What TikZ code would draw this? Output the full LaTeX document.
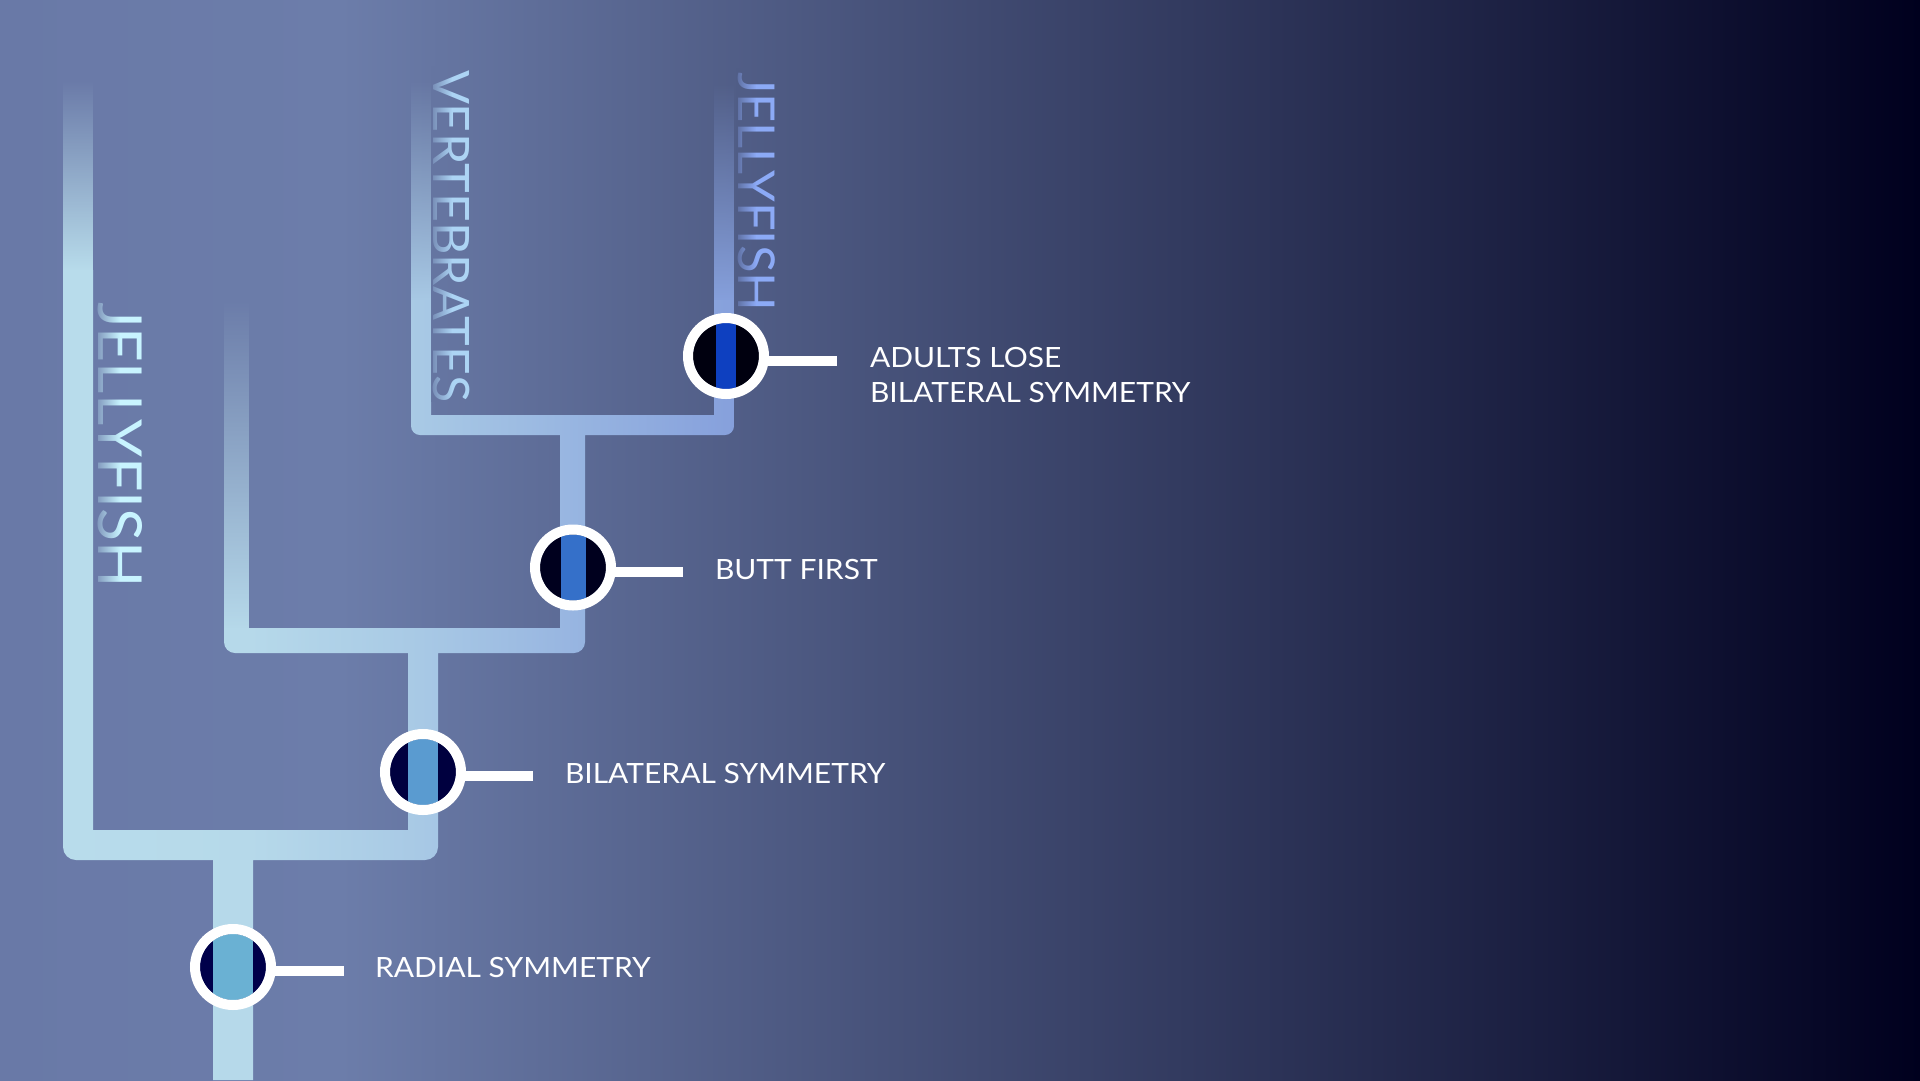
\documentclass[tikz,border=0pt]{standalone}
\usepackage{fontspec}
\setmainfont{Lato}
\newfontfamily\labfont[FakeStretch=1.075]{Lato}
\usetikzlibrary{fadings}

% background
\definecolor{bgA}{HTML}{6979A7}
\definecolor{bgB}{HTML}{6C7DAA}
\definecolor{bgD}{HTML}{00001E}
\definecolor{bgJ}{HTML}{6A7BA8}
\definecolor{bgV}{HTML}{6575A1}
\definecolor{bgR}{HTML}{505D86}
% tree
\definecolor{tA}{HTML}{B8DCEB}
\definecolor{tB}{HTML}{B6D9EA}
\definecolor{tC}{HTML}{A8C9E5}
\definecolor{tD}{HTML}{86A0DC}
% markers
\definecolor{darkA}{HTML}{00004A}
\definecolor{darkB}{HTML}{00003F}
\definecolor{darkC}{HTML}{00001E}
\definecolor{darkD}{HTML}{00000F}
\definecolor{stripeA}{HTML}{6AB1D3}
\definecolor{stripeB}{HTML}{5A9BD0}
\definecolor{stripeC}{HTML}{3570C9}
\definecolor{stripeD}{HTML}{0E40C0}
% vertical labels
\definecolor{jellyL}{HTML}{C8F4FF}
\definecolor{vertL}{HTML}{ACD4F4}
\definecolor{jellyR}{HTML}{8CAAF6}

% x positions mapped onto 25bp..75bp of each shading
\pgfdeclarehorizontalshading{bgshade}{100bp}{color(0bp)=(bgA); color(25bp)=(bgA); color(33.85bp)=(bgB); color(75bp)=(bgD); color(100bp)=(bgD)}
\pgfdeclarehorizontalshading{treeshade}{100bp}{color(0bp)=(tA); color(25bp)=(tA); color(38.9bp)=(tB); color(51.6bp)=(tC); color(75bp)=(tD); color(100bp)=(tD)}

\tikzfading[name=fadeup, top color=transparent!100, bottom color=transparent!0]
\tikzfading[name=fadeside, left color=transparent!22, right color=transparent!100]

\tikzset{
  marker/.style n args={3}{circle, fill=#1, minimum size=66bp, inner sep=0pt, outer sep=0pt,
    path picture={\fill[#2] ([xshift=-#3]path picture bounding box.north) rectangle ([xshift=#3]path picture bounding box.south);}},
  ring/.style={draw=white, line width=10bp},
  conn/.style={draw=white, line width=10bp},
  lab/.style={anchor=base west, inner sep=0pt, outer sep=0pt, text=white, font=\labfont\fontsize{28}{36}\selectfont},
  vlabel/.style={rotate=-90, anchor=base west, inner sep=0pt, outer sep=0pt},
}

\begin{document}
\begin{tikzpicture}[x=1bp, y=1bp]
\useasboundingbox (0,0) rectangle (1920,-1080);
\shade[shading=bgshade] (0,-1080) rectangle (1920,0);

% tree body in one horizontal gradient
\begin{scope}
  \clip (213,-1080) rectangle (253,-845)
        [rounded corners=13bp] (63,-860) rectangle (438,-830) [sharp corners]
        (63,-845) rectangle (93,-270)
        (408,-845) rectangle (438,-640)
        [rounded corners=11bp] (224,-653) rectangle (585,-628) [sharp corners]
        (224,-640) rectangle (249,-628)
        (560,-640) rectangle (585,-425)
        [rounded corners=9bp] (411,-435) rectangle (734,-415) [sharp corners]
        (411,-425) rectangle (431,-300)
        (714,-425) rectangle (734,-300);
  \shade[shading=treeshade] (63,-1080) rectangle (734,0);
\end{scope}

% branch tips fading out
\fill[tA, path fading=fadeup] (63,-270) rectangle (93,-80);
\fill[tB, path fading=fadeup] (224,-628) rectangle (249,-300);
\fill[tC, path fading=fadeup] (411,-300) rectangle (431,-80);
\fill[tD, path fading=fadeup] (714,-300) rectangle (734,-83);

% clade names along the branches
\node[vlabel, font=\fontsize{61}{61}\selectfont, text=jellyL] (jellyleft) at (98,-302) {JELLYFISH};
\node[vlabel, font=\fontsize{50.4}{51}\selectfont, text=vertL] (vert) at (433,-70) {VERTEBRATES};
\node[vlabel, font=\fontsize{51}{51}\selectfont, text=jellyR] (jellyright) at (738,-72) {JELLYFISH};
\fill[bgJ, path fading=fadeside] (96,-590) rectangle (120,-296);
\fill[bgV, path fading=fadeside] (431,-402) rectangle (452,-66);
\fill[bgR, path fading=fadeside] (736,-312) rectangle (756,-68);

% trait markers
\node[marker={darkA}{stripeA}{20bp}] (c1) at (233,-967) {};
\node[marker={darkB}{stripeB}{15bp}] (c2) at (423,-772) {};
\node[marker={darkC}{stripeC}{12.5bp}] (c3) at (573,-567.5) {};
\node[marker={darkD}{stripeD}{10bp}] (c4) at (726,-356) {};

\node[lab] (l1) at (375,-977.7) {RADIAL SYMMETRY};
\node[lab] (l2) at (565,-783) {BILATERAL SYMMETRY};
\node[lab] (l3) at (715,-579) {BUTT FIRST};
\node[lab] (l4) at (870,-367) {\begin{tabular}[t]{@{}l@{}}ADULTS LOSE\\BILATERAL SYMMETRY\end{tabular}};

\coordinate (e1) at (344,-971);
\coordinate (e2) at (533,-776);
\coordinate (e3) at (683,-571.5);
\coordinate (e4) at (837,-361);
\draw[conn] (c1.east |- e1) -- (e1);
\draw[conn] (c2.east |- e2) -- (e2);
\draw[conn] (c3.east |- e3) -- (e3);
\draw[conn] (c4.east |- e4) -- (e4);

\draw[ring] (c1.center) circle[radius=38];
\draw[ring] (c2.center) circle[radius=38];
\draw[ring] (c3.center) circle[radius=38];
\draw[ring] (c4.center) circle[radius=38];
\end{tikzpicture}
\end{document}
